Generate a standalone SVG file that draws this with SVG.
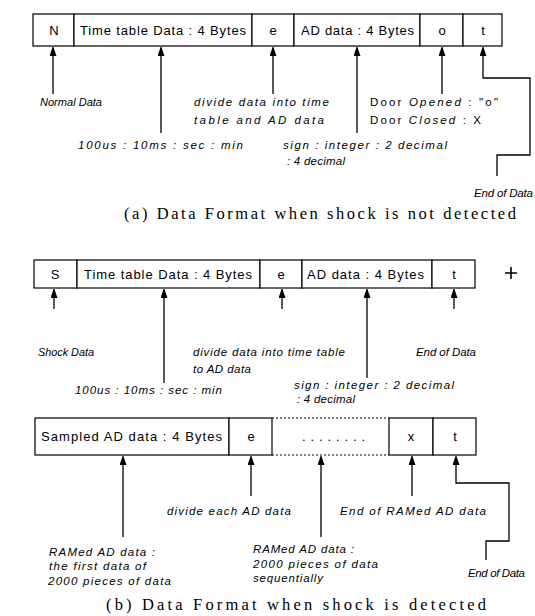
<svg xmlns="http://www.w3.org/2000/svg" width="535" height="616" viewBox="0 0 535 616">
<style>
.box{fill:#fff;stroke:#000;stroke-width:1.2}
.bt{font-family:"Liberation Sans",Arial,sans-serif;font-size:13px;fill:#000}
.lb{font-family:"Liberation Sans",Arial,sans-serif;font-size:11.5px;font-style:italic;fill:#000}
.rg{font-style:normal}
.cap{font-family:"Liberation Serif","Times New Roman",serif;font-size:16.5px;fill:#000}
.ln{fill:none;stroke:#000;stroke-width:1.3}
.dot{fill:none;stroke:#000;stroke-width:1;stroke-dasharray:2 2}
</style>
<defs>
<marker id="ah" markerUnits="userSpaceOnUse" markerWidth="8" markerHeight="11" refX="9" refY="3.5" orient="auto">
<path d="M0,0 L10,3.5 L0,7 z" fill="#000"/>
</marker>
</defs>
<rect width="535" height="616" fill="#fff"/>

<!-- Row A -->
<g id="a-N"><rect class="box" x="33" y="14" width="41" height="32"/><text class="bt" x="54" y="35" text-anchor="middle">N</text></g>
<g id="a-time"><rect class="box" x="74" y="14" width="178" height="32"/><text class="bt" x="80" y="35" textLength="166" lengthAdjust="spacing">Time table Data : 4 Bytes</text></g>
<g id="a-e"><rect class="box" x="252" y="14" width="42" height="32"/><text class="bt" x="273" y="35" text-anchor="middle">e</text></g>
<g id="a-ad"><rect class="box" x="294" y="14" width="126" height="32"/><text class="bt" x="301" y="35" textLength="113" lengthAdjust="spacing">AD data : 4 Bytes</text></g>
<g id="a-o"><rect class="box" x="420" y="14" width="43" height="32"/><text class="bt" x="442" y="35" text-anchor="middle">o</text></g>
<g id="a-t"><rect class="box" x="463" y="14" width="39" height="32"/><text class="bt" x="483" y="35" text-anchor="middle">t</text></g>

<!-- Row B -->
<g id="b-S"><rect class="box" x="34" y="260" width="43" height="28"/><text class="bt" x="55" y="279" text-anchor="middle">S</text></g>
<g id="b-time"><rect class="box" x="77" y="260" width="183" height="28"/><text class="bt" x="84" y="279" textLength="168" lengthAdjust="spacing">Time table Data : 4 Bytes</text></g>
<g id="b-e"><rect class="box" x="260" y="260" width="42" height="28"/><text class="bt" x="281" y="279" text-anchor="middle">e</text></g>
<g id="b-ad"><rect class="box" x="302" y="260" width="130" height="28"/><text class="bt" x="307" y="279" textLength="117" lengthAdjust="spacing">AD data : 4 Bytes</text></g>
<g id="b-t"><rect class="box" x="432" y="260" width="43" height="28"/><text class="bt" x="454" y="279" text-anchor="middle">t</text></g>
<g id="b-plus"><path d="M505,273 H517 M511,267 V279" stroke="#000" stroke-width="1.6"/></g>

<!-- Row C -->
<g id="c-sampled"><rect class="box" x="35" y="418" width="194" height="37"/><text class="bt" x="41" y="441" textLength="181" lengthAdjust="spacing">Sampled AD data : 4 Bytes</text></g>
<g id="c-e"><rect class="box" x="229" y="418" width="43" height="37"/><text class="bt" x="251" y="441" text-anchor="middle">e</text></g>
<g id="c-dots"><path class="dot" d="M272,418 H389 M272,455 H389"/><text class="bt" x="302" y="441" textLength="63" lengthAdjust="spacing">. . . . . . . .</text></g>
<g id="c-x"><rect class="box" x="389" y="418" width="44" height="37"/><text class="bt" x="411" y="441" text-anchor="middle">x</text></g>
<g id="c-t"><rect class="box" x="433" y="418" width="43" height="37"/><text class="bt" x="455" y="441" text-anchor="middle">t</text></g>

<!-- Connectors -->
<g id="connectors" class="ln">
<path d="M53,94 V47" marker-end="url(#ah)"/>
<path d="M161,133 V47" marker-end="url(#ah)"/>
<path d="M273,94 V47" marker-end="url(#ah)"/>
<path d="M357,133 V47" marker-end="url(#ah)"/>
<path d="M442,94 V47" marker-end="url(#ah)"/>
<path d="M497,176 V155 H530 V78 H483 V47" marker-end="url(#ah)"/>

<path d="M54,309 V289" marker-end="url(#ah)"/>
<path d="M164,383 V289" marker-end="url(#ah)"/>
<path d="M282,309 V289" marker-end="url(#ah)"/>
<path d="M367,378 V289" marker-end="url(#ah)"/>
<path d="M454,309 V289" marker-end="url(#ah)"/>

<path d="M123,537 V456" marker-end="url(#ah)"/>
<path d="M251,496 V456" marker-end="url(#ah)"/>
<path d="M321,537 V456" marker-end="url(#ah)"/>
<path d="M412,496 V456" marker-end="url(#ah)"/>
<path d="M486,560 V541 H509 V483 H456 V456" marker-end="url(#ah)"/>
</g>

<!-- Labels A -->
<g id="labels-a">
<text class="lb" x="40" y="106" textLength="62" lengthAdjust="spacingAndGlyphs">Normal  Data</text>
<text class="lb" x="194" y="106" textLength="135" lengthAdjust="spacing">divide data into time</text>
<text class="lb" x="194" y="124" textLength="130" lengthAdjust="spacing">table and AD data</text>
<text class="lb" x="370" y="106" textLength="128" lengthAdjust="spacing"><tspan class="rg">Door </tspan>Opened<tspan class="rg">  : "o"</tspan></text>
<text class="lb" x="370" y="124" textLength="111" lengthAdjust="spacing"><tspan class="rg">Door </tspan>Closed<tspan class="rg">  : X</tspan></text>
<text class="lb" x="78" y="149" textLength="165" lengthAdjust="spacing">100us : 10ms : sec : min</text>
<text class="lb" x="283" y="149" textLength="164" lengthAdjust="spacing">sign : integer : 2 decimal</text>
<text class="lb" x="287" y="165" textLength="58" lengthAdjust="spacing">: 4 decimal</text>
<text class="lb" x="474" y="197" textLength="59" lengthAdjust="spacing">End of Data</text>
</g>
<text class="cap" x="124" y="219" textLength="392" lengthAdjust="spacing">(a)  Data Format when shock is not detected</text>

<!-- Labels B -->
<g id="labels-b">
<text class="lb" x="38" y="356" textLength="56" lengthAdjust="spacingAndGlyphs">Shock  Data</text>
<text class="lb" x="193" y="356" textLength="152" lengthAdjust="spacing">divide data into time table</text>
<text class="lb" x="193" y="373" textLength="58" lengthAdjust="spacing">to AD data</text>
<text class="lb" x="416" y="356" textLength="60" lengthAdjust="spacing">End of Data</text>
<text class="lb" x="75" y="394" textLength="147" lengthAdjust="spacing">100us : 10ms : sec : min</text>
<text class="lb" x="294" y="389" textLength="160" lengthAdjust="spacing">sign : integer : 2 decimal</text>
<text class="lb" x="297" y="403" textLength="58" lengthAdjust="spacing">: 4 decimal</text>
</g>

<!-- Labels C -->
<g id="labels-c">
<text class="lb" x="167" y="515" textLength="124" lengthAdjust="spacing">divide each AD data</text>
<text class="lb" x="340" y="515" textLength="146" lengthAdjust="spacing">End of RAMed AD data</text>
<text class="lb" x="49" y="556" textLength="106" lengthAdjust="spacing">RAMed AD data :</text>
<text class="lb" x="49" y="570" textLength="97" lengthAdjust="spacing">the first data of</text>
<text class="lb" x="48" y="585" textLength="123" lengthAdjust="spacing">2000 pieces of data</text>
<text class="lb" x="253" y="553" textLength="101" lengthAdjust="spacing">RAMed AD data :</text>
<text class="lb" x="253" y="568" textLength="125" lengthAdjust="spacing">2000 pieces of data</text>
<text class="lb" x="253" y="582" textLength="70" lengthAdjust="spacing">sequentially</text>
<text class="lb" x="468" y="577" textLength="57" lengthAdjust="spacing">End of Data</text>
</g>
<text class="cap" x="106" y="610" textLength="380" lengthAdjust="spacing">(b)  Data Format when shock is detected</text>
</svg>
